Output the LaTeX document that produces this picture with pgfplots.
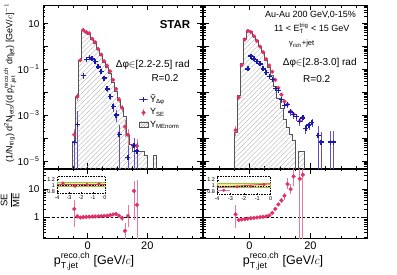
\documentclass[border=0pt]{standalone}
\usepackage{pgfplots}
\pgfplotsset{compat=1.18}
\usepackage{amsmath}
\usepackage{fontspec}
\setmainfont{Liberation Sans}
\usetikzlibrary{patterns.meta}
\definecolor{pk}{RGB}{226,48,102}
\definecolor{pkl}{RGB}{236,120,160}
\definecolor{bl}{RGB}{25,25,175}
\definecolor{bll}{RGB}{100,80,205}
\definecolor{hg}{RGB}{85,85,85}
\definecolor{band}{RGB}{238,236,150}
\definecolor{bandedge}{RGB}{150,195,60}

\pgfplotsset{/pgf/number format/assume math mode=true}
\pgfplotsset{
  mypanel/.style={scale only axis, xmin=-15, xmax=38.5,
    xtick={-20,0,20,40}, minor x tick num=3, tick align=inside,
    xtick pos=both, ytick pos=both,
    major tick length=5pt, minor tick length=2.5pt,
    axis line style={line width=0.8pt}, tick style={black, line width=0.5pt},
    tick label style={font=\fontsize{10}{12}\selectfont},
    xticklabel style={font=\fontsize{11}{12}\selectfont}},
  myupper/.style={mypanel, height=163pt, ymin=5e-6, ymax=65,
    ytick={1e-5,1e-4,1e-3,1e-2,1e-1,1,10},
    minor ytick={5e-6,6e-6,7e-6,8e-6,9e-6,2e-5,3e-5,4e-5,5e-5,6e-5,7e-5,8e-5,9e-5,
      2e-4,3e-4,4e-4,5e-4,6e-4,7e-4,8e-4,9e-4,2e-3,3e-3,4e-3,5e-3,6e-3,7e-3,8e-3,9e-3,
      0.02,0.03,0.04,0.05,0.06,0.07,0.08,0.09,0.2,0.3,0.4,0.5,0.6,0.7,0.8,0.9,
      2,3,4,5,6,7,8,9,20,30,40,50,60},
    xticklabels={}},
  mylower/.style={mypanel, height=69pt, ymin=0.19, ymax=51,
    ytick={1,10},
    minor ytick={0.2,0.3,0.4,0.5,0.6,0.7,0.8,0.9,2,3,4,5,6,7,8,9,20,30,40,50}},
  se/.style={only marks, mark=*, mark size=1.9pt, color=pk,
    error bars/y dir=both, error bars/y explicit, error bars/error mark=none,
    error bars/error bar style={pkl, line width=0.8pt}},
  yh/.style={only marks, mark=+, mark size=2.5pt, mark options={line width=1.4pt}, color=bl,
    error bars/y dir=both, error bars/y explicit, error bars/error mark=none,
    error bars/error bar style={bll, line width=0.8pt}},
  hist/.style={const plot, draw=hg, line width=0.8pt,
    pattern={Lines[angle=45,distance=3.5pt,line width=0.35pt]}, pattern color=gray!65},
  myinset/.style={scale only axis, xmin=-4, xmax=0, ymin=0.72, ymax=1.31,
    xtick={-4,-3,-2,-1,0}, ytick={0.8,1,1.2}, yticklabels={0.8,1,1.2},
    tick align=inside, major tick length=1.5pt, xtick pos=bottom, ytick pos=left,
    axis line style={densely dotted, line width=0.6pt}, tick style={black, line width=0.4pt},
    tick label style={font=\fontsize{5.5}{6}\selectfont},
    yticklabel style={xshift=1.5pt}, xticklabel style={yshift=1pt},
    axis background/.style={fill=white}},
}

\begin{document}
\begin{tikzpicture}
\useasboundingbox (0pt,0pt) rectangle (397pt,274pt);

% ---------------- upper left ----------------
\begin{axis}[myupper, ymode=log, anchor=south west, at={(43pt,106pt)}, width=159.5pt,
  yticklabels={10$^{-\mathrm{5}}$,,10$^{-\mathrm{3}}$,,10$^{-\mathrm{1}}$,,10},
  reverse legend, legend cell align=left,
  legend style={draw=none, fill=none, at={(0.6,0.462)}, anchor=north west,
    font=\fontsize{9}{10}\selectfont, row sep=0.5pt, inner sep=0pt}]
\addplot[hist, legend image code/.code={\draw[hg, line width=0.5pt, pattern={Lines[angle=45,distance=2pt,line width=0.3pt]}, pattern color=gray] (0cm,-0.1cm) rectangle (0.3cm,0.1cm);}]
 coordinates {(-5,1e-8) (-5,7.08e-5) (-4,6.03e-3) (-3,0.251) (-2,5.13) (-1,4.07) (0,3.55) (1,2.04)
 (2,1.41) (3,0.724) (4,0.398) (5,0.200) (6,0.129) (7,0.0692) (8,0.0275) (9,0.0107) (10,4.37e-3)
 (11,2.19e-3) (12,9.33e-4) (13,1.26e-4) (14,5.62e-5) (15,2.63e-5) (16,2.63e-5) (17,2.63e-5)
 (18,2.63e-5) (19,1.78e-5) (20,1e-8) (22,1.78e-5) (23,1e-8)};
\addlegendentry{Y$_{\text{MEnorm}}$}
\addplot[se, legend image code/.code={\draw[pkl,line width=0.8pt] (0.15cm,-0.12cm)--(0.15cm,0.12cm); \draw[pk, mark=*, mark size=1.9pt] plot coordinates {(0.15cm,0cm)};}]
 coordinates {(-4.5,1.41e-4) += (0,1.0e-4) -= (0,1.2e-4) (-3.5,6.61e-3) +- (0,2.5e-3)
 (-2.5,0.251) (-1.5,5.25) (-0.5,4.27) (0.5,3.80) (1.5,2.19) (2.5,1.55) (3.5,0.794) (4.5,0.447)
 (5.5,0.229) (6.5,0.148) (7.5,0.0832) (8.5,0.0355) (9.5,0.0141) (10.5,5.01e-3) +- (0,1.5e-3)
 (11.5,2.14e-3) +- (0,8e-4) (12.5,3.16e-4) += (0,3e-4) -= (0,2e-4)
 (13.5,1.41e-4) += (0,1.2e-4) -= (0,1.0e-4) (15.5,4.9e-5) += (0,5e-5) -= (0,4e-5)
 (16.5,4.57e-5) += (0,5e-5) -= (0,4e-5)};
\addlegendentry{Y$_{\text{SE}}$}
\addplot[yh, legend image code/.code={\draw[bll,line width=0.8pt] (0cm,0cm)--(0.3cm,0cm); \draw[bl, mark=+, mark size=2.5pt, mark options={bl, line width=1.4pt}] plot coordinates {(0.15cm,0cm)};}]
 coordinates {(-4.5,6.61e-5) += (0,1.3e-4) -= (0,6.60e-5) (-3.5,4.07e-4) += (0,1.2e-3) -= (0,4.06e-4)
 (-1.5,0.0537) +- (0,0.015) (-0.5,0.269) +- (0,0.04) (0.5,0.324) +- (0,0.04) (1.5,0.288) +- (0,0.04)
 (2.5,0.229) +- (0,0.03) (3.5,0.129) +- (0,0.02) (4.5,0.0832) +- (0,0.015) (5.5,0.0417) +- (0,0.009)
 (6.5,0.0141) +- (0,4e-3) (7.5,6.61e-3) +- (0,2e-3) (8.5,2.40e-3) +- (0,1.0e-3)
 (9.5,1.02e-3) += (0,6e-4) -= (0,5e-4) (10.5,1.41e-4) += (0,2.5e-4) -= (0,1.409e-4)
 (13.5,1.48e-5) += (0,3e-5) -= (0,1.479e-5) (15.5,4.9e-5) += (0,5e-5) -= (0,4.89e-5)
 (16.5,2.75e-5) += (0,4e-5) -= (0,2.749e-5)};
\addlegendentry{\~{Y}$_{\text{Δφ}}$}
\end{axis}

% ---------------- upper right ----------------
\begin{axis}[myupper, ymode=log, anchor=south west, at={(203.5pt,106pt)}, width=163.5pt, yticklabels={}]
\addplot[hist]
 coordinates {(-5,1e-8) (-5,1.74e-4) (-4,7.59e-3) (-3,0.186) (-2,2.34) (-1,5.25) (0,4.57) (1,2.88)
 (2,1.78) (3,0.970) (4,0.531) (5,0.257) (6,0.126) (7,0.0550) (8,0.0178) (9,5.50e-3) (10,2.0e-3)
 (11,6.92e-4) (12,2.82e-4) (13,1.41e-4) (14,7.94e-5) (15,1e-8) (16,2.63e-5) (18,1e-8)};
\addplot[se]
 coordinates {(-4.5,2.24e-4) +- (0,1e-4) (-3.5,6.17e-3) +- (0,1.5e-3) (-2.5,0.158) (-1.5,2.04)
 (-0.5,4.79) (0.5,4.27) (1.5,2.82) (2.5,1.78) (3.5,1.00) (4.5,0.562) (5.5,0.282) (6.5,0.148)
 (7.5,0.0794) (8.5,0.0355) (9.5,0.0158) (10.5,7.94e-3) (11.5,3.98e-3) (12.5,3.02e-3) (13.5,1.51e-3)
 (14.5,1.12e-3) (16.5,5.75e-4) (17.5,8.13e-4)};
\addplot[yh]
 coordinates {(-0.5,0.105) +- (0,0.02) (0.5,0.380) +- (0,0.05) (1.5,0.288) +- (0,0.04)
 (2.5,0.229) +- (0,0.03) (3.5,0.174) +- (0,0.025) (4.5,0.105) +- (0,0.015) (5.5,0.0741) +- (0,0.01)
 (6.5,0.0501) +- (0,0.008) (7.5,0.0355) +- (0,0.007) (8.5,0.0151) +- (0,3.5e-3)
 (9.5,0.0120) +- (0,3e-3) (10.5,5.01e-3) +- (0,1.4e-3) (11.5,2.63e-3) +- (0,8e-4)
 (12.5,3.02e-3) +- (0,9e-4) (13.5,1.41e-3) +- (0,4.5e-4) (14.5,1.07e-3) +- (0,3.5e-4)
 (15.5,8.91e-4) +- (0,3e-4) (16.5,5.50e-4) +- (0,2e-4) (17.5,7.76e-4) +- (0,2.5e-4)
 (18.5,2.63e-4) +- (0,1.1e-4) (19.5,3.72e-4) +- (0,1.4e-4) (20.5,4.79e-4) +- (0,1.8e-4)
 (22.5,1.35e-4) += (0,1.9e-4) -= (0,1.349e-4) (23.5,6.76e-5) += (0,1.1e-4) -= (0,6.75e-5)
 (26.5,6.76e-5) += (0,1.3e-4) -= (0,6.75e-5) (27.5,6.76e-5) += (0,1.3e-4) -= (0,6.75e-5)};
\end{axis}

% ---------------- lower left ----------------
\begin{axis}[mylower, ymode=log, anchor=south west, at={(43pt,36pt)}, width=159.5pt, yticklabels={1,10}]
\addplot[black, line width=0.6pt, dash pattern=on 2.5pt off 2pt] coordinates {(-15,1) (38.5,1)};
\addplot[se]
 coordinates {(-4.5,2.0) += (0,2.2) -= (0,1.52) (-3.5,1.10) +- (0,0.06) (-2.5,1.00) (-1.5,1.03)
 (-0.5,1.05) (0.5,1.07) (1.5,1.08) (2.5,1.09) (3.5,1.10) (4.5,1.12) (5.5,1.14) (6.5,1.16)
 (7.5,1.20) (8.5,1.28) +- (0,0.06) (9.5,1.33) +- (0,0.08) (10.5,1.15) +- (0,0.12)
 (11.5,0.97) +- (0,0.2) (12.5,0.34) += (0,0.28) -= (0,0.16) (13.5,1.13) += (0,1.6) -= (0,0.66)
 (15.5,8.6) += (0,10) -= (0,7.8) (16.5,2.8) += (0,18) -= (0,2.79)};
\end{axis}

% ---------------- lower right ----------------
\begin{axis}[mylower, ymode=log, anchor=south west, at={(203.5pt,36pt)}, width=163.5pt, yticklabels={}]
\addplot[black, line width=0.6pt, dash pattern=on 2.5pt off 2pt] coordinates {(-15,1) (38.5,1)};
\addplot[se]
 coordinates {(-4.5,1.3) += (0,1.45) -= (0,0.88) (-3.5,0.82) (-2.5,0.85) (-1.5,0.88) (-0.5,0.91)
 (0.5,0.94) (1.5,0.97) (2.5,1.00) (3.5,1.03) (4.5,1.06) (5.5,1.10) (6.5,1.18) (7.5,1.45)
 (8.5,2.0) (9.5,2.9) +- (0,0.3) (10.5,4.0) +- (0,0.8) (11.5,5.8) +- (0,1.5)
 (12.5,15) += (0,10) -= (0,5) (13.5,10) += (0,5) -= (0,3.5) (14.5,28) += (0,25) -= (0,15)
 (16.5,23) += (0,60) -= (0,22.9) (17.5,32) += (0,60) -= (0,31.9)};
\end{axis}

% ---------------- insets ----------------
\begin{axis}[myinset, anchor=south west, at={(57pt,80.5pt)}, width=48pt, height=17pt]
\addplot[fill=band, draw=bandedge, line width=0.5pt] coordinates {(-4,0.96) (0,0.96) (0,1.10) (-4,1.10) (-4,0.96)};
\addplot[pk, line width=0.8pt] coordinates {(-4,1.04) (0,1.04)};
\addplot[black, line width=0.5pt, dash pattern=on 1.5pt off 1.2pt] coordinates {(-4,1) (0,1)};
\addplot[se, mark size=1.4pt] coordinates {(-3.5,1.08) +- (0,0.05) (-2.5,0.97) +- (0,0.03) (-1.5,1.03) +- (0,0.03) (-0.5,1.06) +- (0,0.03)};
\end{axis}
\begin{axis}[myinset, anchor=south west, at={(217pt,79.5pt)}, width=53.7pt, height=18pt]
\addplot[fill=band, draw=bandedge, line width=0.5pt] coordinates {(-4,0.97) (0,0.97) (0,1.10) (-4,1.10) (-4,0.97)};
\addplot[pk, line width=0.8pt] coordinates {(-4,0.95) (0,1.07)};
\addplot[black, line width=0.5pt, dash pattern=on 1.5pt off 1.2pt] coordinates {(-4,1) (0,1)};
\addplot[se, mark size=1.4pt, error bars/x dir=both, error bars/x explicit] coordinates {(-3.5,0.86) +- (0.5,0.04) (-2.5,0.97) +- (0,0.03) (-1.5,0.99) +- (0,0.03) (-0.5,1.05) +- (0,0.03)};
\end{axis}

% ---------------- texts ----------------
\node[font=\fontsize{11.5}{12}\selectfont\bfseries] at (175pt,249pt) {STAR};
\node[font=\fontsize{10}{12}\selectfont] at (152.7pt,209pt) {Δφ$\in$[2.2-2.5] rad};
\node[font=\fontsize{10}{12}\selectfont] at (165pt,195.7pt) {R=0.2};
\node[font=\fontsize{9}{10}\selectfont] at (310.5pt,259.5pt) {Au-Au 200 GeV,0-15\%};
\node[font=\fontsize{9}{10}\selectfont] at (311.7pt,245.7pt) {11 < E$_{\mathrm{T}}^{\mathrm{trig}}$ < 15 GeV};
\node[font=\fontsize{7.5}{8}\selectfont] at (301.7pt,230pt) {γ$_{\mathrm{rich}}$+jet};
\node[font=\fontsize{10}{12}\selectfont] at (319.7pt,210.7pt) {Δφ$\in$[2.8-3.0] rad};
\node[font=\fontsize{10}{12}\selectfont] at (316.7pt,195pt) {R=0.2};

\node[rotate=90, font=\fontsize{9}{10}\selectfont] at (10pt,191pt)
 {(1/N$_{\mathrm{trig}}$) d$^{\mathrm{2}}$N$_{\mathrm{jets}}$/(d p$^{\mathrm{reco,ch}}_{\mathrm{T,jet}}$ dη$_{\mathrm{jet}}$) [GeV/$c$]$^{-1}$};
\node[rotate=90, font=\fontsize{9.5}{10}\selectfont] at (10pt,74pt) {$\dfrac{\text{SE}}{\text{ME}}$};
\node[font=\fontsize{12.5}{14}\selectfont] at (94pt,13pt) {p$^{\mathrm{reco,ch}}_{\mathrm{T,jet}}$ [GeV/$c$]};
\node[font=\fontsize{12.5}{14}\selectfont] at (283pt,13pt) {p$^{\mathrm{reco,ch}}_{\mathrm{T,jet}}$ [GeV/$c$]};
\end{tikzpicture}
\end{document}
